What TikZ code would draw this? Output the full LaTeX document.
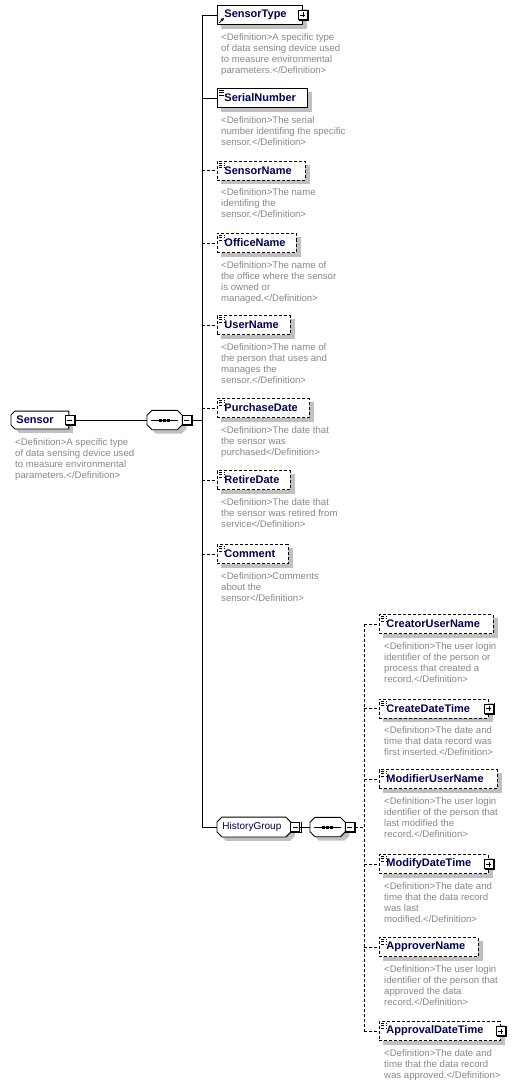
\documentclass[tikz,border=0pt]{standalone}
\usepackage{fontspec}
\setmainfont{Liberation Sans}
\usetikzlibrary{arrows.meta, positioning, calc}

\definecolor{elemtext}{RGB}{0,0,80}
\definecolor{defgrey}{RGB}{135,135,135}
\definecolor{shadowgrey}{RGB}{192,192,192}

\pgfdeclarelayer{background}
\pgfsetlayers{background,main}

% outline with cut corners: node, left cut, right cut, offset
\newcommand{\cutpath}[4]{([xshift=#2,xshift=#4,yshift=-#4]#1.north west) -- ([xshift=-#3,xshift=#4,yshift=-#4]#1.north east)
  -- ([yshift=-#3,xshift=#4,yshift=-#4]#1.north east) -- ([yshift=#3,xshift=#4,yshift=-#4]#1.south east)
  -- ([xshift=-#3,xshift=#4,yshift=-#4]#1.south east) -- ([xshift=#2,xshift=#4,yshift=-#4]#1.south west)
  -- ([yshift=#2,xshift=#4,yshift=-#4]#1.south west) -- ([yshift=-#2,xshift=#4,yshift=-#4]#1.north west) -- cycle}

\tikzset{
  elem/.style={draw, fill=white, line width=0.9pt, minimum height=19pt,
    inner xsep=7pt, inner ysep=0pt, text width=#1, align=left, anchor=west,
    font=\fontsize{11}{13}\selectfont\bfseries, text=elemtext},
  optelem/.style={elem=#1, dash pattern=on 3pt off 2pt},
  gelem/.style={elem=#1, draw=none, fill=none, inner xsep=5pt, minimum height=17pt},
  grp/.style={elem=#1, draw=none, fill=none, inner xsep=5pt, font=\fontsize{10}{12}\selectfont},
  listicon/.style={path picture={
    \foreach \d in {2,4.3,6.6}
      \draw[line width=0.7pt,black] ([xshift=1.5pt,yshift=-\d pt]path picture bounding box.north west) -- ++(5.5pt,0);}},
  refaicon/.style={path picture={
    \draw[line width=0.8pt,black,-{Triangle[length=3pt,width=3pt]}]
      ([xshift=1.5pt,yshift=1.5pt]path picture bounding box.south west) -- ++(5pt,5pt);}},
  seq/.style={minimum width=35pt, minimum height=19pt, inner sep=0pt, anchor=west,
    path picture={
      \draw[line width=0.8pt] ([xshift=4pt]path picture bounding box.west) -- ([xshift=-4pt]path picture bounding box.east);
      \foreach \s in {-4,0,4}
        \fill ([xshift=\s pt]path picture bounding box.center) +(-1.6pt,-1.5pt) rectangle +(1.6pt,1.5pt);}},
  pmbox/.style={draw, fill=white, line width=0.8pt, minimum size=9pt, inner sep=0pt},
  minusbox/.style={pmbox, path picture={
    \draw[line width=0.8pt] ([xshift=2pt]path picture bounding box.west) -- ([xshift=-2pt]path picture bounding box.east);}},
  plusbox/.style={pmbox, path picture={
    \draw[line width=0.8pt] ([xshift=2pt]path picture bounding box.west) -- ([xshift=-2pt]path picture bounding box.east);
    \draw[line width=0.8pt] ([yshift=-2pt]path picture bounding box.north) -- ([yshift=2pt]path picture bounding box.south);}},
  defn/.style={inner sep=0pt, align=left, text=defgrey, font=\fontsize{9.6}{11}\selectfont},
  conn/.style={line width=0.8pt},
  optconn/.style={line width=0.8pt, dash pattern=on 3pt off 2pt}
}

\begin{document}
\begin{tikzpicture}[x=1pt, y=-1pt]
\useasboundingbox (0,0) rectangle (515,1083);

% root element and first sequence
\node[gelem=47pt] (eSensor) at (11,420) {Sensor};
\node[minusbox] (mSensor) at ([xshift=1pt]eSensor.east) {};
\node[defn, below right=9pt and 4pt of eSensor.south west] (dSensor) {<Definition>A specific type\\of data sensing device used\\to measure environmental\\parameters.</Definition>};
\node[seq] (seqA) at (147,420) {};
\node[minusbox, anchor=west, xshift=-0.5pt] (mSeqA) at (seqA.east) {};
\coordinate (busA) at (202,420);

% children of Sensor
\node[elem=71pt, refaicon] (eSensorType) at (217,15) {SensorType};
\node[plusbox] (pSensorType) at (eSensorType.east) {};
\node[defn, below right=8pt and 4pt of eSensorType.south west] (dSensorType) {<Definition>A specific type\\of data sensing device used\\to measure environmental\\parameters.</Definition>};

\node[elem=76pt, listicon] (eSerialNumber) at (217,98) {SerialNumber};
\node[defn, below right=8pt and 4pt of eSerialNumber.south west] (dSerialNumber) {<Definition>The serial\\number identifing the specific\\sensor.</Definition>};

\node[optelem=74pt, listicon] (eSensorName) at (217,170.5) {SensorName};
\node[defn, below right=8pt and 4pt of eSensorName.south west] (dSensorName) {<Definition>The name\\identifing the\\sensor.</Definition>};

\node[optelem=65pt, listicon] (eOfficeName) at (217,243) {OfficeName};
\node[defn, below right=8pt and 4pt of eOfficeName.south west] (dOfficeName) {<Definition>The name of\\the office where the sensor\\is owned or\\managed.</Definition>};

\node[optelem=59pt, listicon] (eUserName) at (217,325) {UserName};
\node[defn, below right=8pt and 4pt of eUserName.south west] (dUserName) {<Definition>The name of\\the person that uses and\\manages the\\sensor.</Definition>};

\node[optelem=78pt, listicon] (ePurchaseDate) at (217,408) {PurchaseDate};
\node[defn, below right=8pt and 4pt of ePurchaseDate.south west] (dPurchaseDate) {<Definition>The date that\\the sensor was\\purchased</Definition>};

\node[optelem=59pt, listicon] (eRetireDate) at (217,480) {RetireDate};
\node[defn, below right=8pt and 4pt of eRetireDate.south west] (dRetireDate) {<Definition>The date that\\the sensor was retired from\\service</Definition>};

\node[optelem=57pt, listicon] (eComment) at (217,554) {Comment};
\node[defn, below right=8pt and 4pt of eComment.south west] (dComment) {<Definition>Comments\\about the\\sensor</Definition>};

% history group and its sequence
\node[grp=63pt] (gHistory) at (217,827) {HistoryGroup};
\node[minusbox, anchor=west, xshift=-0.5pt] (mHistory) at (gHistory.east) {};
\node[seq] (seqB) at (310,827) {};
\node[minusbox, anchor=west, xshift=-0.5pt] (mSeqB) at (seqB.east) {};
\coordinate (busB) at (364,827);

\node[optelem=100pt, listicon] (eCreatorUserName) at (379,624) {CreatorUserName};
\node[defn, below right=8pt and 5pt of eCreatorUserName.south west] (dCreatorUserName) {<Definition>The user login\\identifier of the person or\\process that created a\\record.</Definition>};

\node[optelem=95pt, listicon] (eCreateDateTime) at (379,708.5) {CreateDateTime};
\node[plusbox] (pCreateDateTime) at (eCreateDateTime.east) {};
\node[defn, below right=8pt and 5pt of eCreateDateTime.south west] (dCreateDateTime) {<Definition>The date and\\time that data record was\\first inserted.</Definition>};

\node[optelem=104pt, listicon] (eModifierUserName) at (379,779) {ModifierUserName};
\node[defn, below right=8pt and 5pt of eModifierUserName.south west] (dModifierUserName) {<Definition>The user login\\identifier of the person that\\last modified the\\record.</Definition>};

\node[optelem=95pt, listicon] (eModifyDateTime) at (379,864) {ModifyDateTime};
\node[plusbox] (pModifyDateTime) at (eModifyDateTime.east) {};
\node[defn, below right=8pt and 5pt of eModifyDateTime.south west] (dModifyDateTime) {<Definition>The date and\\time that the data record\\was last\\modified.</Definition>};

\node[optelem=85pt, listicon] (eApproverName) at (379,947) {ApproverName};
\node[defn, below right=8pt and 5pt of eApproverName.south west] (dApproverName) {<Definition>The user login\\identifier of the person that\\approved the data\\record.</Definition>};

\node[optelem=107pt, listicon] (eApprovalDateTime) at (379,1031) {ApprovalDateTime};
\node[plusbox] (pApprovalDateTime) at (eApprovalDateTime.east) {};
\node[defn, below right=8pt and 5pt of eApprovalDateTime.south west] (dApprovalDateTime) {<Definition>The date and\\time that the data record\\was approved.</Definition>};

% connectors
\draw[conn] (mSensor.east) -- (seqA.west);
\draw[conn] (mSeqA.east) -- (busA);
\draw[conn] (eSensorType.west) -- (busA |- eSensorType.west) -- (busA |- gHistory.west) -- (gHistory.west);
\draw[conn] (busA |- eSerialNumber.west) -- (eSerialNumber.west);
\foreach \n in {SensorName,OfficeName,UserName,PurchaseDate,RetireDate,Comment}
  \draw[optconn] (busA |- e\n.west) -- (e\n.west);
\draw[conn] (mHistory.east) -- (seqB.west);
\draw[optconn] (mSeqB.east) -- (busB);
\draw[optconn] (busB |- eCreatorUserName.west) -- (busB |- eApprovalDateTime.west);
\foreach \n in {CreatorUserName,CreateDateTime,ModifierUserName,ModifyDateTime,ApproverName,ApprovalDateTime}
  \draw[optconn] (busB |- e\n.west) -- (e\n.west);

% 3d edge of the +/- boxes
\foreach \m in {mSensor,mSeqA,mHistory,mSeqB,pSensorType,pCreateDateTime,pModifyDateTime,pApprovalDateTime}
  \draw[line width=1pt] ([xshift=1pt,yshift=0.5pt]\m.north east) -- ([xshift=1pt,yshift=-1pt]\m.south east) -- ([xshift=0.5pt,yshift=-1pt]\m.south west);

% shadows and cut-corner outlines
\begin{pgfonlayer}{background}
\foreach \n/\l/\r in {eSensor/4pt/0pt, gHistory/5pt/5pt, seqA/5pt/5pt, seqB/5pt/5pt} {
  \fill[shadowgrey] \cutpath{\n}{\l}{\r}{4pt};
  \filldraw[fill=white, line width=0.9pt] \cutpath{\n}{\l}{\r}{0pt};
}
\foreach \n in {eSensorType,eSerialNumber,eSensorName,eOfficeName,eUserName,ePurchaseDate,eRetireDate,eComment,
    eCreatorUserName,eCreateDateTime,eModifierUserName,eModifyDateTime,eApproverName,eApprovalDateTime}
  \fill[shadowgrey] ([xshift=4pt,yshift=-4pt]\n.north west) rectangle ([xshift=4pt,yshift=-4pt]\n.south east);
\end{pgfonlayer}
\end{tikzpicture}
\end{document}
